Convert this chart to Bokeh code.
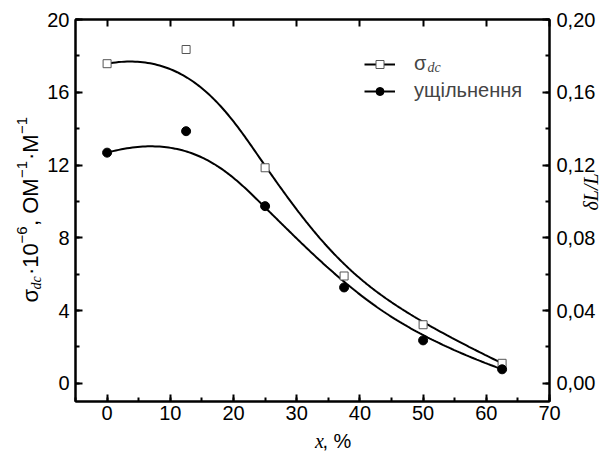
import numpy as np
from bokeh.plotting import figure
from bokeh.layouts import row, column
from bokeh.models import (Range1d, LinearAxis, SingleIntervalTicker, FixedTicker,
                          Legend, LegendItem, Label)
from bokeh.core.properties import value
from bokeh.embed import file_html
from bokeh.resources import INLINE

# ---------------- data ----------------
x_pct = [0, 12.5, 25, 37.5, 50, 62.5]
sigma_dc = [17.57, 18.35, 11.85, 5.9, 3.22, 1.1]                  # left axis
densification = [0.1268, 0.1386, 0.0974, 0.0527, 0.0236, 0.0077]  # right axis

x_tick_values = [0, 10, 20, 30, 40, 50, 60, 70]
left_tick_values = [0, 4, 8, 12, 16, 20]
right_tick_values = [0.00, 0.04, 0.08, 0.12, 0.16, 0.20]
right_tick_labels = ["0,00", "0,04", "0,08", "0,12", "0,16", "0,20"]

SANS = "Liberation Sans"
SERIF = "Liberation Serif"


def bspline(xs, ys, k=3, n=240):
    """Clamped cubic B-spline with the data points as control points."""
    P = np.column_stack([xs, ys]).astype(float)
    m = len(P)
    knots = np.concatenate([np.zeros(k), np.linspace(0, 1, m - k + 1), np.ones(k)])
    out = []
    for t in np.linspace(0, 1, n):
        i = int(np.searchsorted(knots, t, side="right") - 1)
        i = min(max(i, k), m - 1)
        d = [P[j + i - k].copy() for j in range(k + 1)]
        for r in range(1, k + 1):
            for j in range(k, r - 1, -1):
                denom = knots[j + 1 + i - r] - knots[j + i - k]
                a = (t - knots[j + i - k]) / denom if denom else 0.0
                d[j] = (1 - a) * d[j - 1] + a * d[j]
        out.append(d[k])
    out = np.array(out)
    return out[:, 0], out[:, 1]


# ---------------- main figure ----------------
p = figure(width=572, height=429, output_backend="svg", toolbar_location=None,
           x_range=Range1d(-5, 70), y_range=Range1d(-1, 20),
           min_border_left=29, min_border_right=62, min_border_top=19,
           min_border_bottom=28, background_fill_color="white",
           border_fill_color="white")
p.extra_y_ranges = {"dl": Range1d(-0.01, 0.20)}
p.grid.visible = False
p.outline_line_color = "black"
p.outline_line_width = 2


def style_axis(ax, standoff=7):
    ax.axis_line_width = 2
    ax.major_tick_line_width = 2
    ax.minor_tick_line_width = 2
    ax.major_tick_in = 7
    ax.major_tick_out = 0
    ax.minor_tick_in = 4
    ax.minor_tick_out = 0
    ax.major_label_text_font = SANS
    ax.major_label_text_font_size = "20px"
    ax.major_label_text_color = "black"
    ax.major_label_standoff = standoff


p.xaxis.ticker = SingleIntervalTicker(interval=x_tick_values[1] - x_tick_values[0], num_minor_ticks=2)
p.yaxis.ticker = SingleIntervalTicker(interval=left_tick_values[1] - left_tick_values[0], num_minor_ticks=2)
for ax in p.xaxis:
    style_axis(ax, 4)
for ax in p.yaxis:
    style_axis(ax, 6)

right = LinearAxis(y_range_name="dl",
                   ticker=SingleIntervalTicker(interval=right_tick_values[1] - right_tick_values[0],
                                               num_minor_ticks=2),
                   major_label_overrides={v: s for v, s in zip(right_tick_values, right_tick_labels)})
style_axis(right, 7)
right.axis_label = "δL/L"
right.axis_label_text_font = SERIF
right.axis_label_text_font_style = "italic"
right.axis_label_text_font_size = "20px"
right.axis_label_text_color = "black"
right.axis_label_standoff = -7
if "axis_label_orientation" in right.properties():
    right.axis_label_orientation = np.pi / 2
p.add_layout(right, "right")

# top: tick marks only (no labels)
top = LinearAxis(ticker=FixedTicker(ticks=[], minor_ticks=x_tick_values))
style_axis(top, 0)
top.minor_tick_in = 7
p.add_layout(top, "above")

# ---------------- curves and points ----------------
cx1, cy1 = bspline(x_pct, sigma_dc)
cx2, cy2 = bspline(x_pct, densification)

l1 = p.line(cx1, cy1, line_color="black", line_width=2)
l2 = p.line(cx2, cy2, line_color="black", line_width=2, y_range_name="dl")
s1 = p.scatter(x_pct, sigma_dc, marker="square", size=8, fill_color="white",
               line_color="#555555", line_width=1)
s2 = p.scatter(x_pct, densification, marker="circle", size=9, fill_color="black",
               line_color="black", y_range_name="dl")

legend = Legend(items=[LegendItem(label="σ", renderers=[l1, s1]),
                       LegendItem(label="ущільнення", renderers=[l2, s2])],
                location=(289, 299), glyph_width=31, glyph_height=20, spacing=4,
                label_standoff=19, padding=0, margin=0,
                border_line_alpha=0, background_fill_alpha=0,
                label_text_font=SANS, label_text_font_size="20px")
p.add_layout(legend)
p.add_layout(Label(x=352, y=327, x_units="screen", y_units="screen", text="dc",
                   text_font=SERIF, text_font_style="italic", text_font_size="14px"))


def strip(w, h):
    f = figure(width=w, height=h, x_range=Range1d(0, w), y_range=Range1d(0, h),
               output_backend="svg", toolbar_location=None, min_border=0,
               x_axis_type=None, y_axis_type=None, outline_line_color=None,
               background_fill_color="white", border_fill_color="white")
    f.grid.visible = False
    return f


# ---------------- left title strip: σdc·10^-6, ОМ^-1·М^-1 ----------------
# (text, font px, style, font, baseline x, advance along the text)
L = strip(44, 453)
pieces = [("σ", 22, "normal", SANS, 37.5, 13.0),
          ("dc", 14, "italic", SERIF, 40.8, 14.5),
          ("·10", 22, "normal", SANS, 37.5, 31.5),
          ("−6", 15, "normal", SANS, 26.5, 17.5),
          (", ОМ", 22, "normal", SANS, 37.5, 48.0),
          ("−1", 15, "normal", SANS, 26.5, 18.0),
          ("·М", 22, "normal", SANS, 37.5, 26.0),
          ("−1", 15, "normal", SANS, 26.5, 17.0)]
pos_y = 151
for txt, fs, sty, fnt, bx, w in pieces:
    L.text(x=[bx - 0.35 * fs], y=[pos_y], text=[txt], angle=90, angle_units="deg",
           text_font=value(fnt), text_font_style=sty, text_font_size=f"{fs}px",
           text_align="left", text_baseline="middle", text_color="black")
    pos_y += w

# ---------------- bottom title strip: x, % ----------------
B = strip(572, 24)
B.text(x=[289], y=[13], text=["x"], text_font=value(SERIF), text_font_style="italic",
       text_font_size="20px", text_align="left", text_baseline="middle", text_color="black")
B.text(x=[298], y=[13], text=[", %"], text_font=value(SANS), text_font_size="20px",
       text_align="left", text_baseline="middle", text_color="black")

layout = row(L, column(p, B, spacing=0), spacing=0)
open("out.html", "w").write(file_html(layout, INLINE))
